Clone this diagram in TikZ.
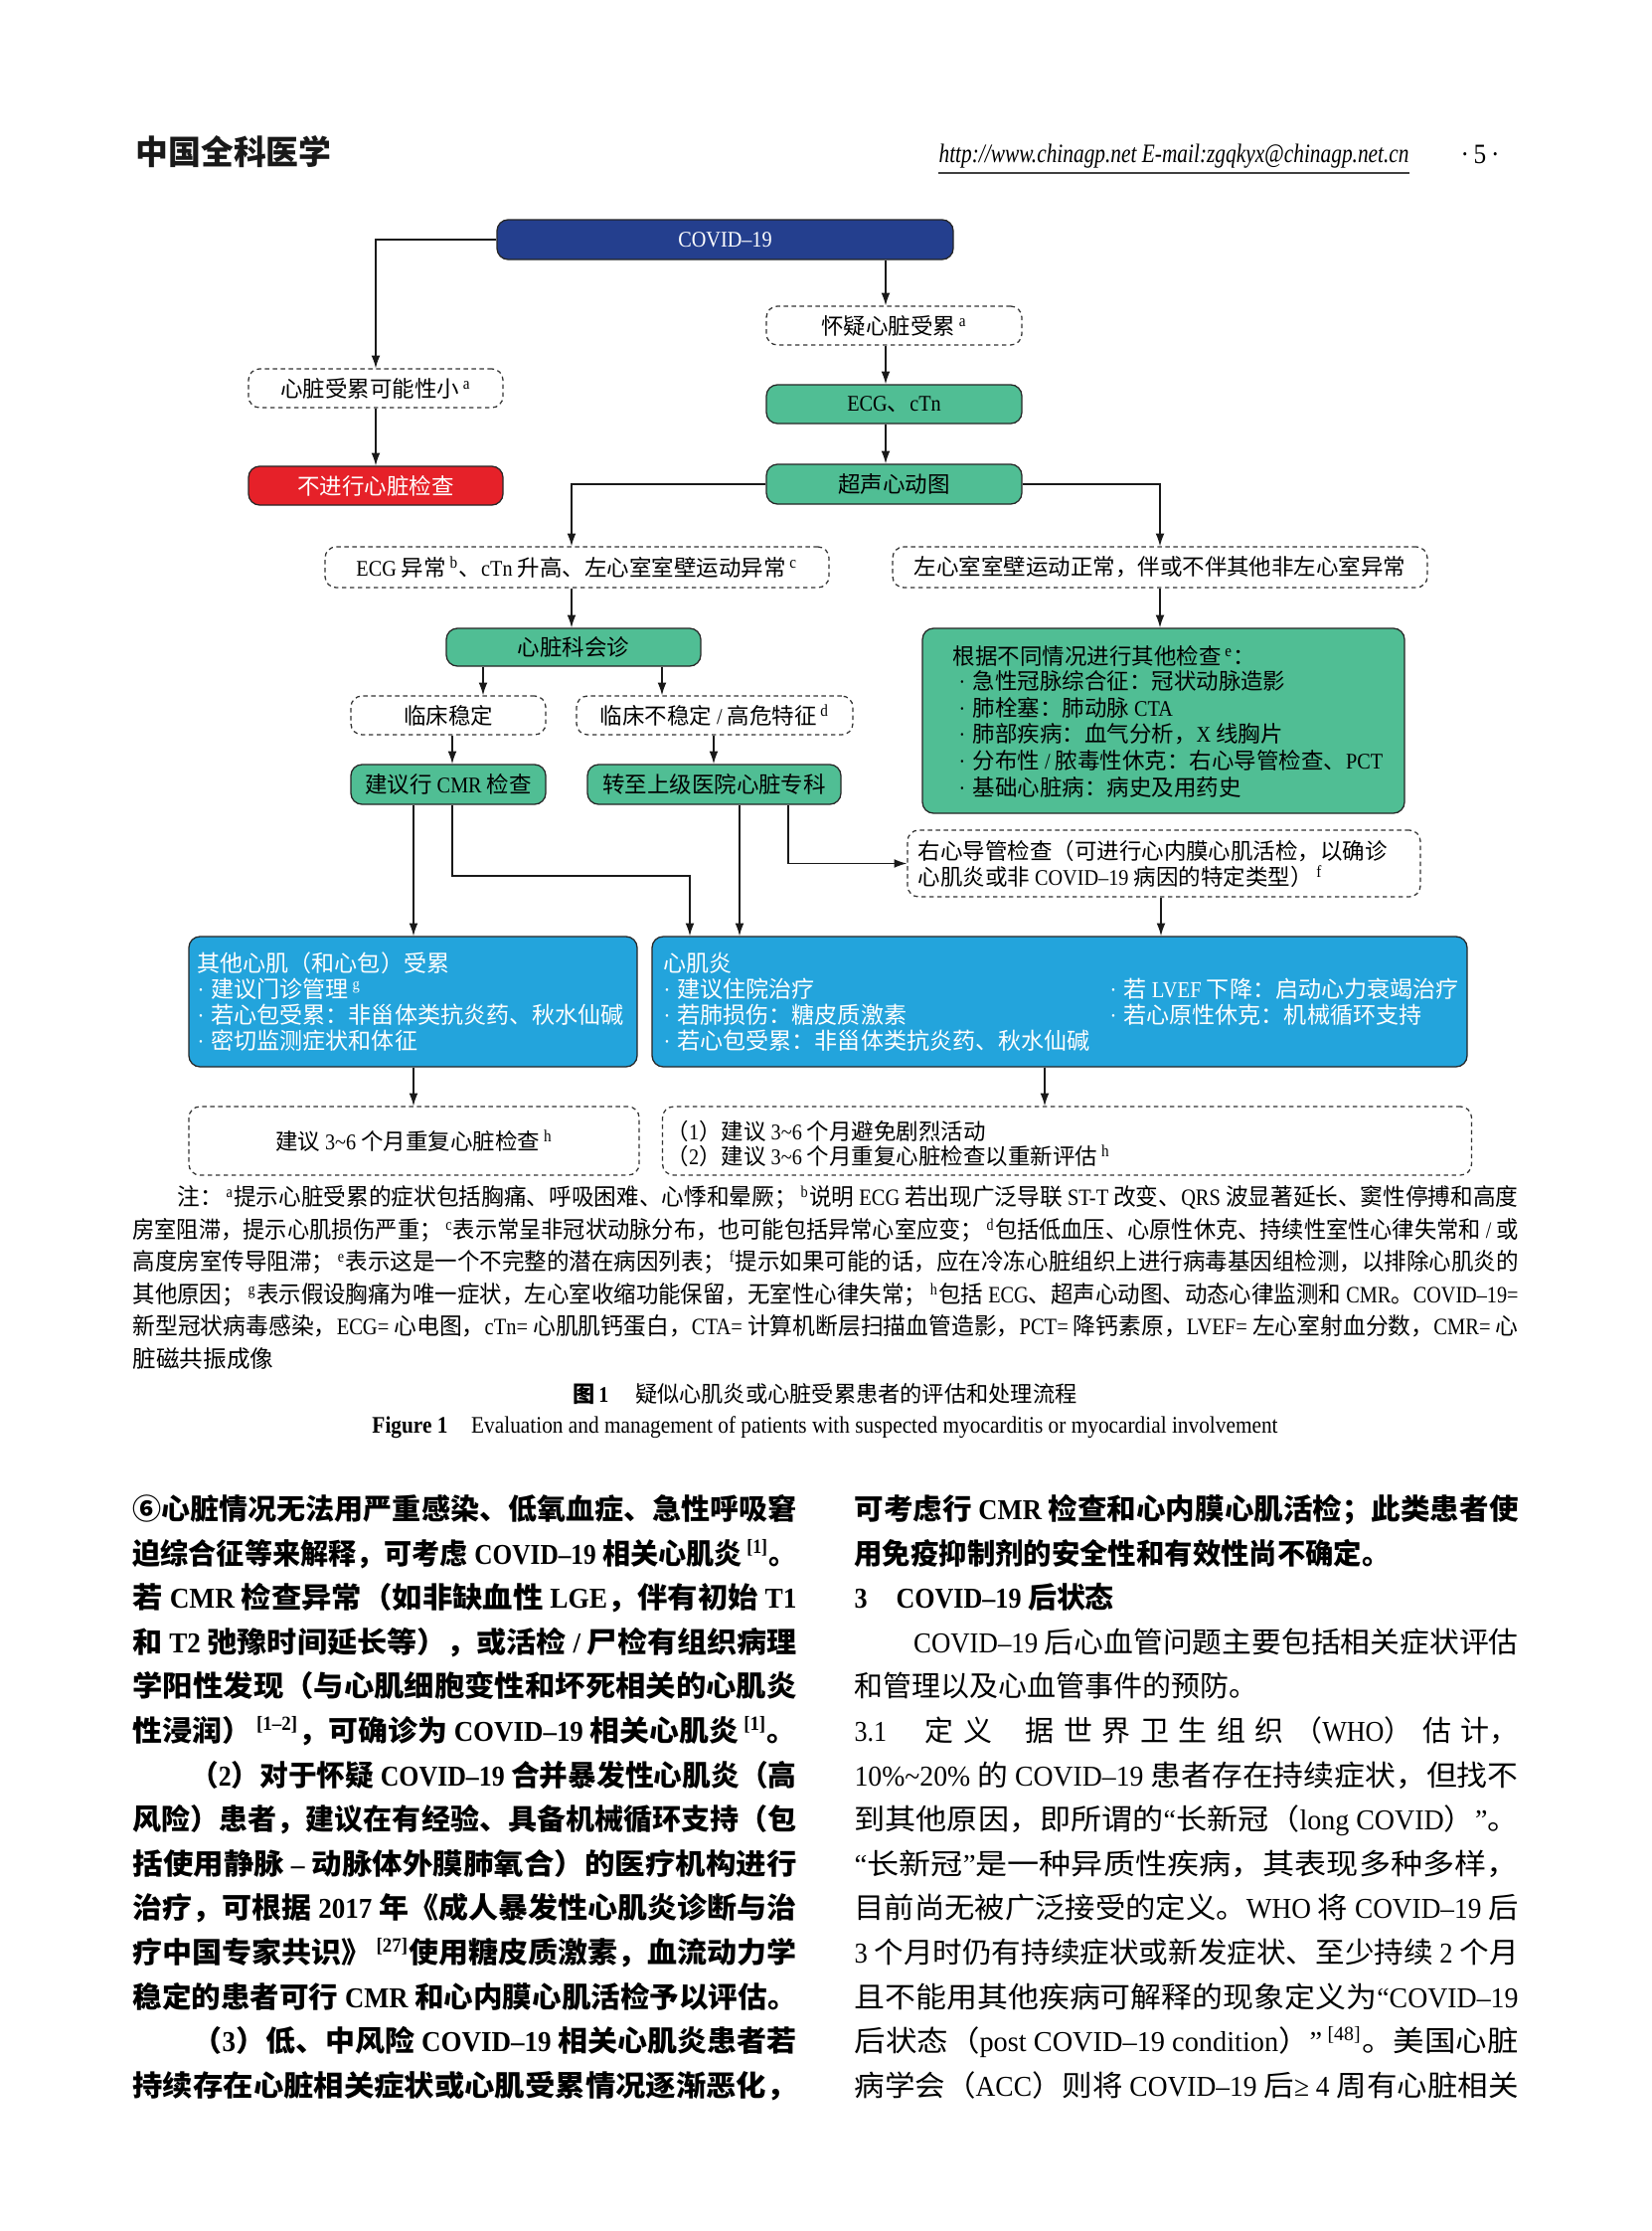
\documentclass[tikz,border=0pt]{standalone}
\usepackage{fontspec}
\usepackage{graphicx}
\setmainfont{Liberation Serif}[FakeStretch=0.9]
\newfontfamily\cjkfam{Noto Sans CJK SC}
\usetikzlibrary{arrows.meta}

\newlength\upx \setlength\upx{0.125mm}

\newXeTeXintercharclass\cjkcls
\newcount\cjkc
\cjkc="21
\loop \XeTeXcharclass\cjkc=0 \ifnum\cjkc<"2E7F \advance\cjkc by 1 \repeat
\cjkc="2E80
\loop \XeTeXcharclass\cjkc=\cjkcls \ifnum\cjkc<"9FFF \advance\cjkc by 1 \repeat
\cjkc="FF00
\loop \XeTeXcharclass\cjkc=\cjkcls \ifnum\cjkc<"FFEF \advance\cjkc by 1 \repeat
\cjkc="2460
\loop \XeTeXcharclass\cjkc=\cjkcls \ifnum\cjkc<"24FF \advance\cjkc by 1 \repeat
\XeTeXinterchartoks 0 \cjkcls = {\cjkfam}
\XeTeXinterchartoks 4095 \cjkcls = {\cjkfam}
\XeTeXinterchartoks \cjkcls 0 = {\rmfamily}
\XeTeXinterchartoks \cjkcls 4095 = {\rmfamily}
\XeTeXinterchartokenstate=1

\definecolor{cnavy}{RGB}{36,63,142}
\definecolor{cred}{RGB}{230,33,41}
\definecolor{cgreen}{RGB}{80,190,148}
\definecolor{cblue}{RGB}{35,164,220}

\newcommand\dfont{\fontsize{8pt}{10pt}\selectfont}
\newcommand\bxfont{\fontsize{8.2pt}{10pt}\selectfont}
\newcommand\bfont{\fontsize{10.3pt}{12pt}\selectfont}
\newcommand\ffont{\fontsize{8.4pt}{10pt}\selectfont}
\newcommand\ts[1]{\,\textsuperscript{#1}}
\newcommand\bul{\makebox[14\upx][l]{·}}
\newcommand\fw[2]{\resizebox{#1\upx}{\height}{#2}}

\begin{document}
\begin{tikzpicture}[x=\upx,y=-\upx,
  bx/.style={rounded corners=1.4mm, inner sep=0pt, align=center, line width=0.16mm, font=\dfont},
  fillbox/.style={bx, draw=black!85, fill=#1},
  dbox/.style={bx, draw=black!80, dash pattern=on 0.55mm off 0.45mm, fill=white},
  sz/.style 2 args={minimum width=#1*\upx, minimum height=#2*\upx},
  arr/.style={line width=0.16mm, draw=black!90, -{Latex[length=1.6mm,width=1.1mm]}},
  tl/.style={anchor=base west, inner sep=0pt, font=\dfont},
  bl/.style={anchor=base west, inner sep=0pt, font=\bfont},
  blb/.style={anchor=base west, inner sep=0pt, font=\bfont\bfseries},
  fl/.style={anchor=base west, inner sep=0pt, font=\ffont}]
\fill[white] (0,0) rectangle (1661,2244);
\path[use as bounding box] (0,0) rectangle (1661,2244);

% header
\node[anchor=west, inner sep=0pt, text=black!90] (logo) at (136,153) {\resizebox{197\upx}{29\upx}{\cjkfam\bfseries 中国全科医学}};
\node[anchor=base west, inner sep=0pt] (url) at (944,164) {\resizebox{473\upx}{\height}{\fontsize{9.5pt}{11pt}\selectfont\itshape http://www.chinagp.net E-mail:zgqkyx@chinagp.net.cn}};
\draw[line width=0.3mm, black!75] ([yshift=-1.2pt]url.south west) -- ([yshift=-1.2pt]url.south east);
\node[anchor=base, inner sep=0pt, font=\fontsize{10pt}{12pt}\selectfont] (pgno) at (1489,164) {·\,5\,·};

% diagram boxes
\node[fillbox=cnavy, sz={459}{40}, text=white] (covid) at (729.5,241) {COVID–19};
\node[dbox, sz={256}{39}] (small) at (378,390.5) {心脏受累可能性小\ts{a}};
\node[fillbox=cred, sz={256}{39}, text=white] (noexam) at (378,488.5) {不进行心脏检查};
\node[dbox, sz={257}{39}] (suspect) at (899.5,327.5) {怀疑心脏受累\ts{a}};
\node[fillbox=cgreen, sz={257}{39}] (ecg) at (899.5,406.5) {ECG、cTn};
\node[fillbox=cgreen, sz={257}{40}] (echo) at (899.5,487) {超声心动图};
\node[dbox, sz={507}{41}] (ecgab) at (580.5,570.5) {ECG 异常\ts{b}、cTn 升高、左心室室壁运动异常\ts{c}};
\node[dbox, sz={538}{41}] (lvnorm) at (1167,570.5) {左心室室壁运动正常，伴或不伴其他非左心室异常};
\node[fillbox=cgreen, sz={256}{38}] (consult) at (577,651) {心脏科会诊};
\node[fillbox=cgreen, sz={485}{186}] (others) at (1170.5,725) {};
\node[dbox, sz={196}{39}] (stable) at (451,719.5) {临床稳定};
\node[dbox, sz={278}{39}] (unstable) at (719,719.5) {临床不稳定 / 高危特征\ts{d}};
\node[fillbox=cgreen, sz={196}{40}] (cmr) at (451,789) {建议行 CMR 检查};
\node[fillbox=cgreen, sz={255}{40}] (transfer) at (718.5,789) {转至上级医院心脏专科};
\node[dbox, sz={516}{67}] (rhc) at (1171,868.5) {};
\node[fillbox=cblue, sz={451}{131}] (bother) at (415.5,1007.5) {};
\node[fillbox=cblue, sz={820}{131}] (bmyo) at (1066,1007.5) {};
\node[dbox, sz={453}{69}] (fleft) at (416.5,1147.5) {建议 3\textasciitilde 6 个月重复心脏检查\ts{h}};
\node[dbox, sz={814}{69}] (fright) at (1073.5,1147.5) {};

% texts inside multi-line boxes
\node[tl] (o0) at (958,668) {根据不同情况进行其他检查\ts{e}：};
\node[tl] (o1) at (964,693) {\bul 急性冠脉综合征：冠状动脉造影};
\node[tl] (o2) at (964,720) {\bul 肺栓塞：肺动脉 CTA};
\node[tl] (o3) at (964,746) {\bul 肺部疾病：血气分析，X 线胸片};
\node[tl] (o4) at (964,773) {\bul 分布性 / 脓毒性休克：右心导管检查、PCT};
\node[tl] (o5) at (964,800) {\bul 基础心脏病：病史及用药史};

\node[tl] (r1) at (923,864) {右心导管检查（可进行心内膜心肌活检，以确诊};
\node[tl] (r2) at (923,890) {心肌炎或非 COVID–19 病因的特定类型）\ts{f}};

\node[tl, font=\bxfont, text=white] (b0) at (198,977) {其他心肌（和心包）受累};
\node[tl, font=\bxfont, text=white] (b1) at (198,1003) {\bul 建议门诊管理\ts{g}};
\node[tl, font=\bxfont, text=white] (b2) at (198,1029) {\bul 若心包受累：非甾体类抗炎药、秋水仙碱};
\node[tl, font=\bxfont, text=white] (b3) at (198,1055) {\bul 密切监测症状和体征};

\node[tl, font=\bxfont, text=white] (m0) at (667,977) {心肌炎};
\node[tl, font=\bxfont, text=white] (m1) at (667,1003) {\bul 建议住院治疗};
\node[tl, font=\bxfont, text=white] (m2) at (667,1029) {\bul 若肺损伤：糖皮质激素};
\node[tl, font=\bxfont, text=white] (m3) at (667,1055) {\bul 若心包受累：非甾体类抗炎药、秋水仙碱};
\node[tl, font=\bxfont, text=white] (m4) at (1116,1003) {\bul 若 LVEF 下降：启动心力衰竭治疗};
\node[tl, font=\bxfont, text=white] (m5) at (1116,1029) {\bul 若心原性休克：机械循环支持};

\node[tl] (f1) at (670,1146) {（1）建议 3\textasciitilde 6 个月避免剧烈活动};
\node[tl] (f2) at (670,1171) {（2）建议 3\textasciitilde 6 个月重复心脏检查以重新评估\ts{h}};

% connectors
\coordinate (ax) at (891,0);
\coordinate (bx) at (575,0);
\coordinate (c1) at (486,0);
\coordinate (c2) at (666,0);
\coordinate (c3) at (455,0);
\coordinate (c4) at (718,0);
\coordinate (c5) at (416,0);
\coordinate (c6) at (694,0);
\coordinate (c7) at (744,0);
\coordinate (c8) at (793,0);
\coordinate (c9) at (1168,0);
\coordinate (c10) at (1051,0);
\coordinate (h1) at (0,881);

\draw[arr] (covid.west) -| (small.north);
\draw[arr] (small) -- (noexam);
\draw[arr] (covid.south -| ax) -- (suspect.north -| ax);
\draw[arr] (suspect.south -| ax) -- (ecg.north -| ax);
\draw[arr] (ecg.south -| ax) -- (echo.north -| ax);
\draw[arr] (echo.west) -| (ecgab.north -| bx);
\draw[arr] (echo.east) -| (lvnorm.north);
\draw[arr] (ecgab.south -| bx) -- (consult.north -| bx);
\draw[arr] (lvnorm.south) -- (lvnorm.south |- others.north);
\draw[arr] (consult.south -| c1) -- (stable.north -| c1);
\draw[arr] (consult.south -| c2) -- (unstable.north -| c2);
\draw[arr] (stable.south -| c3) -- (cmr.north -| c3);
\draw[arr] (unstable.south -| c4) -- (transfer.north -| c4);
\draw[arr] (cmr.south -| c5) -- (bother.north -| c5);
\draw[arr] (cmr.south -| c3) -- (c3 |- h1) -- (c6 |- h1) -- (bmyo.north -| c6);
\draw[arr] (transfer.south -| c7) -- (bmyo.north -| c7);
\draw[arr] (transfer.south -| c8) -- (c8 |- rhc.west) -- (rhc.west);
\draw[arr] (rhc.south -| c9) -- (bmyo.north -| c9);
\draw[arr] (bother.south -| c5) -- (fleft.north -| c5);
\draw[arr] (bmyo.south -| c10) -- (fright.north -| c10);

% notes
\node[fl] (n1) at (178,1212) {\fw{1349}{注：\ts{a}提示心脏受累的症状包括胸痛、呼吸困难、心悸和晕厥；\ts{b}说明 ECG 若出现广泛导联 ST-T 改变、QRS 波显著延长、窦性停搏和高度}};
\node[fl] (n2) at (133,1245) {\fw{1394}{房室阻滞，提示心肌损伤严重；\ts{c}表示常呈非冠状动脉分布，也可能包括异常心室应变；\ts{d}包括低血压、心原性休克、持续性室性心律失常和 / 或}};
\node[fl] (n3) at (133,1277) {\fw{1394}{高度房室传导阻滞；\ts{e}表示这是一个不完整的潜在病因列表；\ts{f}提示如果可能的话，应在冷冻心脏组织上进行病毒基因组检测，以排除心肌炎的}};
\node[fl] (n4) at (133,1310) {\fw{1394}{其他原因；\ts{g}表示假设胸痛为唯一症状，左心室收缩功能保留，无室性心律失常；\ts{h}包括 ECG、超声心动图、动态心律监测和 CMR。COVID–19=}};
\node[fl] (n5) at (133,1342) {\fw{1394}{新型冠状病毒感染，ECG= 心电图，cTn= 心肌肌钙蛋白，CTA= 计算机断层扫描血管造影，PCT= 降钙素原，LVEF= 左心室射血分数，CMR= 心}};
\node[fl] (n6) at (133,1375) {脏磁共振成像};

% captions
\node[anchor=base, inner sep=0pt, font=\fontsize{8pt}{10pt}\selectfont] (cap1) at (830,1410) {\fw{507}{{\cjkfam\bfseries 图}\,\textbf{1}\hspace{1.2em}疑似心肌炎或心脏受累患者的评估和处理流程}};
\node[anchor=base, inner sep=0pt, font=\fontsize{8.5pt}{10pt}\selectfont] (cap2) at (830,1441) {\fw{911}{\textbf{Figure 1}\hspace{1em}Evaluation and management of patients with suspected myocarditis or myocardial involvement}};

% left column (bold)
\node[blb] (l1) at (133,1528) {\fw{668}{⑥心脏情况无法用严重感染、低氧血症、急性呼吸窘}};
\node[blb] (l2) at (133,1573) {\fw{668}{迫综合征等来解释，可考虑 COVID–19 相关心肌炎\ts{[1]}。}};
\node[blb] (l3) at (133,1617) {\fw{668}{若 CMR 检查异常（如非缺血性 LGE，伴有初始 T1}};
\node[blb] (l4) at (133,1662) {\fw{668}{和 T2 弛豫时间延长等），或活检 / 尸检有组织病理}};
\node[blb] (l5) at (133,1706) {\fw{668}{学阳性发现（与心肌细胞变性和坏死相关的心肌炎}};
\node[blb] (l6) at (133,1751) {\fw{668}{性浸润）\ts{[1–2]}，可确诊为 COVID–19 相关心肌炎\ts{[1]}。}};
\node[blb] (l7) at (133,1796) {\fw{668}{\hspace*{2em}（2）对于怀疑 COVID–19 合并暴发性心肌炎（高}};
\node[blb] (l8) at (133,1840) {\fw{668}{风险）患者，建议在有经验、具备机械循环支持（包}};
\node[blb] (l9) at (133,1885) {\fw{668}{括使用静脉 – 动脉体外膜肺氧合）的医疗机构进行}};
\node[blb] (l10) at (133,1929) {\fw{668}{治疗，可根据 2017 年《成人暴发性心肌炎诊断与治}};
\node[blb] (l11) at (133,1974) {\fw{668}{疗中国专家共识》\ts{[27]}使用糖皮质激素，血流动力学}};
\node[blb] (l12) at (133,2019) {\fw{668}{稳定的患者可行 CMR 和心内膜心肌活检予以评估。}};
\node[blb] (l13) at (133,2063) {\fw{668}{\hspace*{2em}（3）低、中风险 COVID–19 相关心肌炎患者若}};
\node[blb] (l14) at (133,2108) {\fw{668}{持续存在心脏相关症状或心肌受累情况逐渐恶化，}};

% right column
\node[blb] (q1) at (859,1528) {\fw{668}{可考虑行 CMR 检查和心内膜心肌活检；此类患者使}};
\node[blb] (q2) at (859,1573) {\fw{539}{用免疫抑制剂的安全性和有效性尚不确定。}};
\node[blb] (q3) at (859,1617) {3\hspace{1em}COVID–19 后状态};
\node[bl] (q4) at (859,1662) {\fw{668}{\hspace*{2em}COVID–19 后心血管问题主要包括相关症状评估}};
\node[bl] (q5) at (859,1706) {和管理以及心血管事件的预防。};
\node[bl] (q6) at (859,1751) {\hbox to 668\upx{3.1\hskip 0pt plus 4fil 定\hfil 义\hskip 0pt plus 3.5fil 据\hfil 世\hfil 界\hfil 卫\hfil 生\hfil 组\hfil 织\hfil （WHO）\hfil 估\hfil 计，}};
\node[bl] (q7) at (859,1796) {\fw{668}{10\%\textasciitilde 20\% 的 COVID–19 患者存在持续症状，但找不}};
\node[bl] (q8) at (859,1840) {\fw{668}{到其他原因，即所谓的“长新冠（long COVID）”。}};
\node[bl] (q9) at (859,1885) {\fw{668}{“长新冠”是一种异质性疾病，其表现多种多样，}};
\node[bl] (q10) at (859,1929) {\fw{668}{目前尚无被广泛接受的定义。WHO 将 COVID–19 后}};
\node[bl] (q11) at (859,1974) {\fw{668}{3 个月时仍有持续症状或新发症状、至少持续 2 个月}};
\node[bl] (q12) at (859,2019) {\fw{668}{且不能用其他疾病可解释的现象定义为“COVID–19}};
\node[bl] (q13) at (859,2063) {\fw{668}{后状态（post COVID–19 condition）”\ts{[48]}。美国心脏}};
\node[bl] (q14) at (859,2108) {\fw{668}{病学会（ACC）则将 COVID–19 后≥ 4 周有心脏相关}};
\end{tikzpicture}
\end{document}
